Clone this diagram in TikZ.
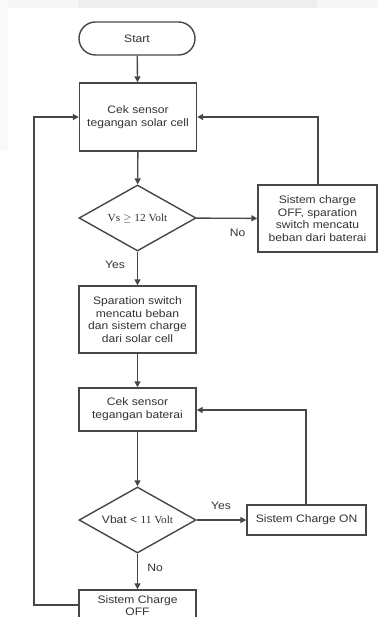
\documentclass[tikz,border=0pt]{standalone}
\usepackage{fontspec}
\usetikzlibrary{arrows.meta,shapes.geometric,shapes.misc}
\newfontfamily\arialf[FakeStretch=1.12]{Liberation Sans}
\newfontfamily\timesf[FakeStretch=1.05]{Liberation Serif}
\definecolor{ln}{HTML}{474747}
\definecolor{tx}{HTML}{333333}
\tikzset{
  base/.style={draw=ln, line width=1.4pt, text=tx, align=center, inner sep=0pt,
    font=\arialf\fontsize{10.8}{12.7}\selectfont},
  procbox/.style={base, rectangle, minimum width=117pt},
  termbox/.style={base, rounded rectangle, minimum width=116pt, minimum height=33pt},
  decbox/.style={base, diamond, minimum width=117pt, minimum height=66pt, aspect=1.77},
  conn/.style={draw=ln, line width=1.4pt, -{Triangle[length=6pt,width=6pt]}},
  lbl/.style={text=tx, align=center, font=\arialf\fontsize{10.8}{12.7}\selectfont, inner sep=0pt}
}
\begin{document}
\begin{tikzpicture}[x=1pt,y=-1pt]
\useasboundingbox (0,0) rectangle (378,617);
\clip (0,0) rectangle (378,617);
\fill[white] (0,0) rectangle (378,617);
\fill[gray!6] (0,0) rectangle (378,8);
\fill[gray!13] (78,0) rectangle (317,8);
\fill[gray!5] (0,0) rectangle (8,150);

\node[termbox] (start) at (137,38.5) {Start};
\node[procbox, minimum height=68pt] (b1) at (138,117) {Cek sensor\\tegangan solar cell};
\node[decbox] (d1) at (137.5,218) {\timesf Vs $\geq$ 12 Volt};
\node[procbox, minimum width=119pt, minimum height=67pt] (b2) at (317.5,218.5) {Sistem charge\\OFF, sparation\\switch mencatu\\beban dari baterai};
\node[procbox, minimum height=67pt] (b3) at (137.5,319.5) {Sparation switch\\mencatu beban\\dan sistem charge\\dari solar cell};
\node[procbox, minimum height=43pt] (b4) at (137.5,409.5) {Cek sensor\\tegangan baterai};
\node[decbox] (d2) at (137.5,520) {Vbat < {\timesf 11 Volt}};
\node[procbox, minimum width=119pt, minimum height=30pt] (b5) at (306.5,520) {Sistem Charge ON};
\node[procbox, minimum height=44pt] (b6) at (137.5,612) {};
\node[lbl, anchor=north] (b6t) at (137.5,595) {Sistem Charge\\OFF};

\coordinate (lt) at (34,117);
\coordinate (lb) at (34,605);
\coordinate (rt) at (318,117);
\coordinate (r2) at (306,410);

\draw[conn] (start) -- (b1);
\draw[conn] (b1) -- (d1);
\draw[conn] (d1) -- (b2);
\draw[conn] (d1) -- (b3);
\draw[conn] (b3) -- (b4);
\draw[conn] (b4) -- (d2);
\draw[conn] (d2) -- (b5);
\draw[conn] (d2) -- (b6);
\draw[conn] (b2.north -| rt) -- (rt) -- (b1.east);
\draw[conn] (b5.north -| r2) -- (r2) -- (b4.east |- r2);
\draw[conn] (b6.west |- lb) -- (lb) -- (lt) -- (b1.west);

\node[lbl] (no1) at (237.5,233) {No};
\node[lbl] (yes1) at (115,265) {Yes};
\node[lbl] (yes2) at (221,506) {Yes};
\node[lbl] (no2) at (155,568) {No};
\end{tikzpicture}
\end{document}
